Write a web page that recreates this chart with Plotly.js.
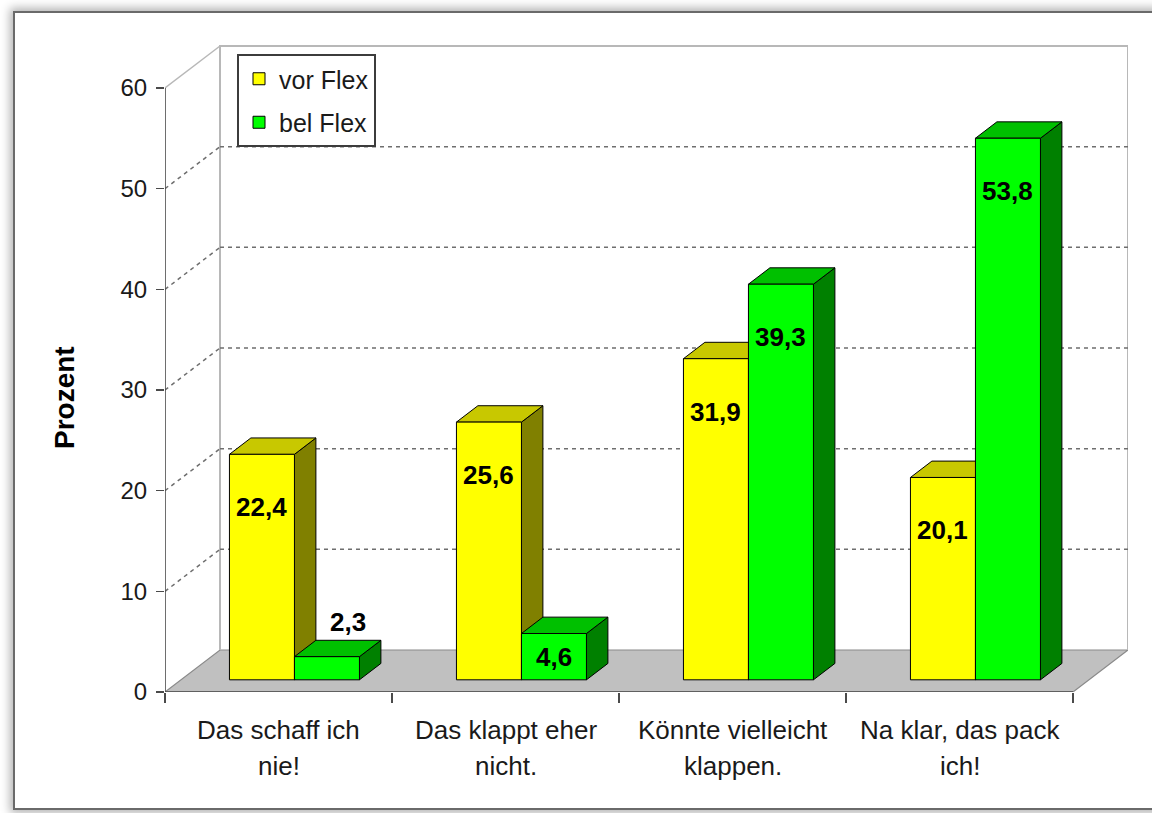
<!DOCTYPE html>
<html>
<head>
<meta charset="utf-8">
<script src="https://cdn.plot.ly/plotly-3.0.1.min.js"></script>
<style>
  html, body { margin: 0; padding: 0; background: #ffffff; }
  #wrap { position: relative; width: 1152px; height: 813px; overflow: hidden; background: #ffffff; }
  #frame { position: absolute; left: 13px; top: 11px; width: 1170px; height: 795px;
           border: 2px solid #6a6a6a; background: #ffffff;
           box-shadow: 0 0 9px 3px rgba(0,0,0,0.30); }
  #chart { position: absolute; left: 0; top: 0; width: 1152px; height: 813px; }
</style>
</head>
<body>
<div id="wrap">
  <div id="frame"></div>
  <div id="chart"></div>
</div>
<script>
// ---- data ----
const categories = ['Das schaff ich<br>nie!', 'Das klappt eher<br>nicht.', 'Könnte vielleicht<br>klappen.', 'Na klar, das pack<br>ich!'];
const seriesNames = ['vor Flex', 'bel Flex'];
const vorFlex = [22.4, 25.6, 31.9, 20.1];
const beiFlex = [2.3, 4.6, 39.3, 53.8];
const yTicks = [0, 10, 20, 30, 40, 50, 60];
const yTitle = 'Prozent';

// ---- geometry of the pseudo-3D box ----
const W = 1152, H = 813;
const L = 165, T = 45, PW = 963, PH = 647;      // plot area in px
const pxCat = 227;                               // px per category
const yTop = yTicks[yTicks.length - 1];
const pxUnit = 604 / yTop;                       // px per percent
const DX = 55 / pxCat, DY = 42 / pxUnit;         // full depth offset (data units)
const fFront = 0.29, fDepth = 0.39;              // bar front position / bar depth as share of box depth
const barW = 65 / pxCat;
const sx = fFront * DX, sy = fFront * DY;
const bx = fDepth * DX, by = fDepth * DY;
const xMin = -0.5, xMax = xMin + PW / pxCat, yMax = PH / pxUnit;
const xEnd = categories.length - 0.5;

const FONT = 'Arial, "Liberation Sans", Helvetica, sans-serif';
const styles = [
  { front: '#ffff00', top: '#c8c800', side: '#808000' },
  { front: '#00ff00', top: '#00c000', side: '#008000' }
];
const series = [vorFlex, beiFlex];

const shapes = [];
const P = (x, y) => x + ',' + y;

// floor
shapes.push({ type: 'path', xref: 'x', yref: 'y', layer: 'below',
  path: 'M' + P(xMin, 0) + 'L' + P(xEnd, 0) + 'L' + P(xEnd + DX, DY) + 'L' + P(xMin + DX, DY) + 'Z',
  fillcolor: '#c0c0c0', line: { color: '#8a8a8a', width: 1.2 } });

// back wall outline
shapes.push({ type: 'path', xref: 'x', yref: 'y', layer: 'below',
  path: 'M' + P(xMin + DX, DY) + 'L' + P(xMin + DX, yTop + DY) + 'L' + P(xEnd + DX, yTop + DY) + 'L' + P(xEnd + DX, DY),
  fillcolor: 'rgba(0,0,0,0)', line: { color: '#b8b8b8', width: 2 } });
shapes.push({ type: 'line', xref: 'x', yref: 'y', layer: 'below',
  x0: xMin, y0: yTop, x1: xMin + DX, y1: yTop + DY, line: { color: '#b8b8b8', width: 1.5 } });

// dotted grid on the back wall plus the side connectors
yTicks.slice(1, -1).forEach(v => {
  shapes.push({ type: 'line', xref: 'x', yref: 'y', layer: 'below',
    x0: xMin, y0: v, x1: xMin + DX, y1: v + DY, line: { color: '#6e6e6e', width: 1.5, dash: '4px,4px' } });
  shapes.push({ type: 'line', xref: 'x', yref: 'y', layer: 'below',
    x0: xMin + DX, y0: v + DY, x1: xEnd + DX, y1: v + DY, line: { color: '#6e6e6e', width: 1.5, dash: '4px,4px' } });
});

// front axis lines
shapes.push({ type: 'line', xref: 'x', yref: 'y', layer: 'below',
  x0: xMin, y0: 0, x1: xMin, y1: yTop, line: { color: '#4a4a4a', width: 1.6 } });
shapes.push({ type: 'line', xref: 'x', yref: 'y', layer: 'below',
  x0: xMin, y0: 0, x1: xEnd, y1: 0, line: { color: '#4a4a4a', width: 1.6 } });

// side and top faces of every bar
const barX0 = (s, i) => i + sx + (s === 0 ? -barW : 0);
series.forEach((vals, s) => {
  vals.forEach((v, i) => {
    const x0 = barX0(s, i), x1 = x0 + barW, yb = sy, yt = sy + v;
    shapes.push({ type: 'path', xref: 'x', yref: 'y', layer: 'below',
      path: 'M' + P(x1, yb) + 'L' + P(x1 + bx, yb + by) + 'L' + P(x1 + bx, yt + by) + 'L' + P(x1, yt) + 'Z',
      fillcolor: styles[s].side, line: { color: '#000000', width: 1 } });
    shapes.push({ type: 'path', xref: 'x', yref: 'y', layer: 'below',
      path: 'M' + P(x0, yt) + 'L' + P(x1, yt) + 'L' + P(x1 + bx, yt + by) + 'L' + P(x0 + bx, yt + by) + 'Z',
      fillcolor: styles[s].top, line: { color: '#000000', width: 1 } });
  });
});

// front faces
const traces = series.map((vals, s) => ({
  type: 'bar',
  name: seriesNames[s],
  legendgroup: 'g' + s,
  x: vals.map((_, i) => i),
  y: vals,
  base: vals.map(() => sy),
  width: barW,
  offset: s === 0 ? sx - barW : sx,
  marker: { color: styles[s].front, line: { color: '#000000', width: 1 } },
  hoverinfo: 'skip'
}));

// labels
const annotations = [];
const fmt = v => v.toFixed(1).replace('.', ',');
series.forEach((vals, s) => {
  vals.forEach((v, i) => {
    const x0 = barX0(s, i), hpx = v * pxUnit;
    if (hpx < 32) {
      annotations.push({ x: x0 + barW / 2 + bx, y: sy + v + by, xref: 'x', yref: 'y',
        text: '<b>' + fmt(v) + '</b>', showarrow: false, yanchor: 'bottom', yshift: 1,
        font: { family: FONT, size: 26, color: '#000000' } });
    } else {
      annotations.push({ x: x0 + barW / 2, y: sy + v, xref: 'x', yref: 'y',
        text: '<b>' + fmt(v) + '</b>', showarrow: false, yanchor: 'middle',
        yshift: -Math.min(53, hpx / 2),
        font: { family: FONT, size: 26, color: '#000000' } });
    }
  });
});
categories.forEach((c, i) => {
  c.split('<br>').forEach((line, k) => {
    annotations.push({ x: i, y: 0, xref: 'x', yref: 'y', text: line, showarrow: false,
      xanchor: 'center', yanchor: 'middle', yshift: -38 - 36 * k,
      font: { family: FONT, size: 26, color: '#1a1a1a' } });
  });
});
annotations.push({ x: 0, y: (692 - 398) / PH, xref: 'paper', yref: 'paper', xshift: 64 - L,
  xanchor: 'center', yanchor: 'middle',
  text: '<b>' + yTitle + '</b>', textangle: -90, showarrow: false,
  font: { family: FONT, size: 28, color: '#000000' } });

const layout = {
  width: W, height: H,
  margin: { l: L, r: W - L - PW, t: T, b: H - T - PH, pad: 0 },
  paper_bgcolor: 'rgba(0,0,0,0)', plot_bgcolor: 'rgba(0,0,0,0)',
  barmode: 'overlay',
  showlegend: true,
  legend: { x: (237 - L) / PW, y: (692 - 54) / PH, xanchor: 'left', yanchor: 'top',
    bgcolor: '#ffffff', bordercolor: '#3c3c3c', borderwidth: 2,
    traceorder: 'grouped', tracegroupgap: 8, itemwidth: 30,
    font: { family: FONT, size: 25, color: '#1a1a1a' } },
  xaxis: { range: [xMin, xMax], showgrid: false, zeroline: false, showline: false,
    tickmode: 'array', tickvals: categories.map((_, i) => i - 0.5).concat([xEnd]),
    ticktext: categories.map(() => '').concat(['']),
    ticks: 'outside', ticklen: 10, tickwidth: 1.6, tickcolor: '#4a4a4a', fixedrange: true },
  yaxis: { range: [0, yMax], showgrid: false, zeroline: false, showline: false,
    tickmode: 'array', tickvals: yTicks, ticktext: yTicks.map(String),
    ticks: 'outside', ticklen: 8, tickwidth: 1.6, tickcolor: '#4a4a4a',
    ticklabelstandoff: 4,
    tickfont: { family: FONT, size: 24, color: '#1a1a1a' }, fixedrange: true },
  shapes: shapes,
  annotations: annotations
};

Plotly.newPlot('chart', traces, layout, { displayModeBar: false, staticPlot: true });
</script>
</body>
</html>
